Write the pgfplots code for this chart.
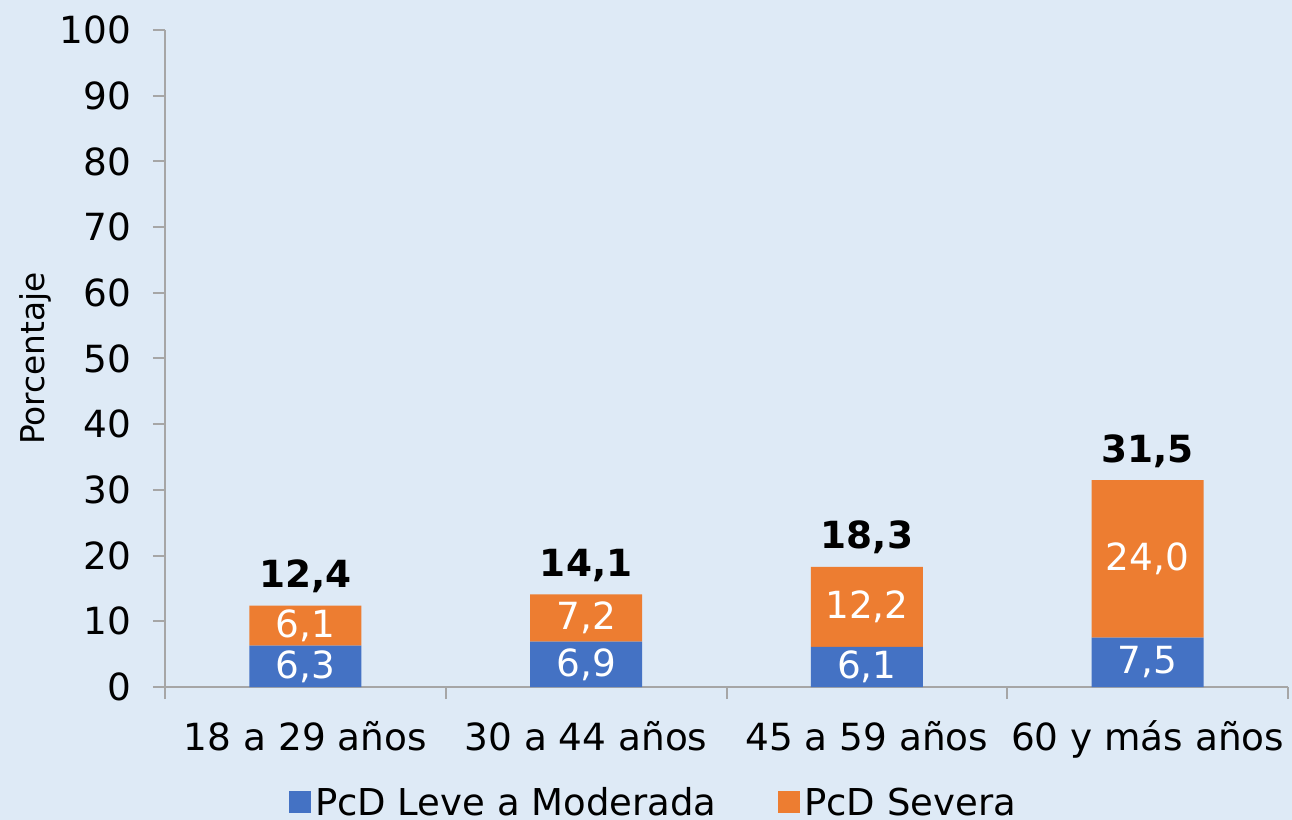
\documentclass[border=0pt]{standalone}
\usepackage{pgfplots}
\pgfplotsset{compat=1.18}
\usepackage{fontspec}
\setmainfont{DejaVu Sans}
\definecolor{bg}{HTML}{DEEAF6}
\definecolor{cblue}{HTML}{4472C4}
\definecolor{corange}{HTML}{ED7D31}
\definecolor{axgray}{HTML}{A6A6A6}
\pgfplotsset{sqlegend/.style={legend image code/.code={\fill[##1] (0bp,-5bp) rectangle (11bp,6bp);}}}
\begin{document}
\begin{tikzpicture}
\path[use as bounding box, fill=bg] (-82.5bp,-66.5bp) rectangle (563.5bp,343.5bp);
\begin{axis}[
  scale only axis, width=561.5bp, height=328.5bp,
  ymin=0, ymax=100, ytick={0,10,...,100},
  xmin=-0.5, xmax=3.5,
  xtick={0,1,2,3},
  xticklabels={18 a 29 años, 30 a 44 años, 45 a 59 años, 60 y más años},
  minor xtick={-0.5,0.5,1.5,2.5,3.5},
  major x tick style={draw=none},
  tick align=outside,
  major tick length=6bp, minor tick length=6bp,
  axis lines*=left,
  axis line style={axgray, line width=1bp},
  every tick/.style={axgray, line width=1bp},
  /pgf/number format/assume math mode=true,
  ticklabel style={font=\fontsize{18.7bp}{22bp}\selectfont},
  xticklabel style={yshift=-7.5bp},
  yticklabel style={xshift=-7.5bp},
  ylabel={Porcentaje},
  ylabel style={at={(axis description cs:-0.1158,0.5)}, anchor=center, font=\fontsize{16.4bp}{19bp}\selectfont},
  ybar stacked, bar width=56bp,
  legend columns=2,
  legend style={at={(0.4359,-0.1765)}, anchor=center, draw=none, fill=none,
    font=\fontsize{18.5bp}{22bp}\selectfont,
    /tikz/every even column/.append style={column sep=29bp}},
  legend cell align=left,
]
\addplot[fill=cblue, draw=none, sqlegend,
  nodes near coords, point meta=explicit symbolic,
  nodes near coords align={center},
  every node near coord/.append style={white, font=\fontsize{18.7bp}{22bp}\selectfont}]
coordinates {(0,6.3)[6,3] (1,6.9)[6,9] (2,6.1)[6,1] (3,7.5)[7,5]};
\addlegendentry{PcD Leve a Moderada}
\addplot[fill=corange, draw=none, sqlegend,
  nodes near coords, point meta=explicit symbolic,
  nodes near coords align={center},
  every node near coord/.append style={white, font=\fontsize{18.7bp}{22bp}\selectfont}]
coordinates {(0,6.1)[6,1] (1,7.2)[7,2] (2,12.2)[12,2] (3,24.0)[24,0]};
\addlegendentry{PcD Severa}
\addplot[forget plot, draw=none, fill=none,
  nodes near coords, point meta=explicit symbolic,
  every node near coord/.append style={black, font=\fontsize{18.7bp}{22bp}\selectfont\bfseries, yshift=14.5bp}]
coordinates {(0,0.001)[12,4] (1,0.001)[14,1] (2,0.001)[18,3] (3,0.001)[31,5]};
\end{axis}
\end{tikzpicture}
\end{document}
